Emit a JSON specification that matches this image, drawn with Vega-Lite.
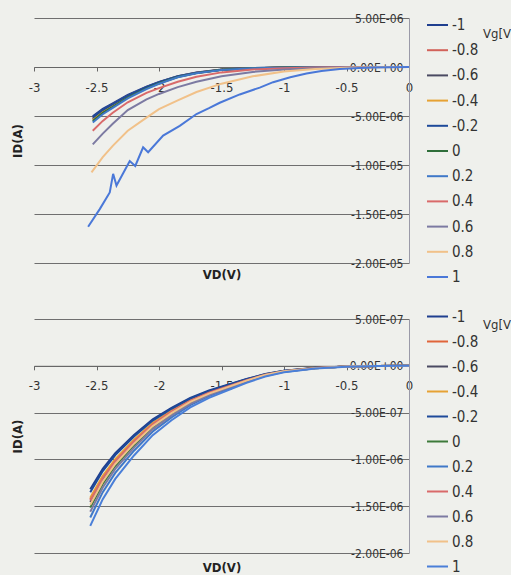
{
  "$schema": "https://vega.github.io/schema/vega-lite/v6.json",
  "background": "#eff0ec",
  "padding": {"left": 11, "top": 12, "right": 0, "bottom": 0},
  "spacing": 19,
  "config": {
    "view": {"stroke": null},
    "font": "DejaVu Sans Condensed",
    "axis": {"labelColor": "#333333", "titleColor": "#222222", "labelFlush": false, "labelOverlap": false},
    "legend": {"labelColor": "#333333", "titleColor": "#333333"}
  },
  "resolve": {"scale": {"color": "independent"}, "legend": {"color": "independent"}},
  "datasets": {
    "top": [
      {"Vg":"-1","VD":0,"ID":0},{"Vg":"-1","VD":-0.25,"ID":-1.9e-9},{"Vg":"-1","VD":-0.5,"ID":-9.5e-9},{"Vg":"-1","VD":-0.75,"ID":-2.85e-8},{"Vg":"-1","VD":-1,"ID":-5.7e-8},{"Vg":"-1","VD":-1.25,"ID":-1.14e-7},{"Vg":"-1","VD":-1.5,"ID":-2.66e-7},{"Vg":"-1","VD":-1.7,"ID":-5.7e-7},{"Vg":"-1","VD":-1.85,"ID":-9.31e-7},{"Vg":"-1","VD":-2,"ID":-1.52e-6},{"Vg":"-1","VD":-2.1,"ID":-1.995e-6},{"Vg":"-1","VD":-2.25,"ID":-2.85e-6},{"Vg":"-1","VD":-2.37,"ID":-3.705e-6},{"Vg":"-1","VD":-2.45,"ID":-4.275e-6},{"Vg":"-1","VD":-2.53,"ID":-5.035e-6},
      {"Vg":"-0.8","VD":0,"ID":0},{"Vg":"-0.8","VD":-0.25,"ID":-2e-9},{"Vg":"-0.8","VD":-0.5,"ID":-9.8e-9},{"Vg":"-0.8","VD":-0.75,"ID":-2.94e-8},{"Vg":"-0.8","VD":-1,"ID":-5.88e-8},{"Vg":"-0.8","VD":-1.25,"ID":-1.176e-7},{"Vg":"-0.8","VD":-1.5,"ID":-2.744e-7},{"Vg":"-0.8","VD":-1.7,"ID":-5.88e-7},{"Vg":"-0.8","VD":-1.85,"ID":-9.604e-7},{"Vg":"-0.8","VD":-2,"ID":-1.568e-6},{"Vg":"-0.8","VD":-2.1,"ID":-2.058e-6},{"Vg":"-0.8","VD":-2.25,"ID":-2.94e-6},{"Vg":"-0.8","VD":-2.37,"ID":-3.822e-6},{"Vg":"-0.8","VD":-2.45,"ID":-4.41e-6},{"Vg":"-0.8","VD":-2.53,"ID":-5.194e-6},
      {"Vg":"-0.6","VD":0,"ID":0},{"Vg":"-0.6","VD":-0.25,"ID":-2e-9},{"Vg":"-0.6","VD":-0.5,"ID":-1e-8},{"Vg":"-0.6","VD":-0.75,"ID":-3e-8},{"Vg":"-0.6","VD":-1,"ID":-6e-8},{"Vg":"-0.6","VD":-1.25,"ID":-1.2e-7},{"Vg":"-0.6","VD":-1.5,"ID":-2.8e-7},{"Vg":"-0.6","VD":-1.7,"ID":-6e-7},{"Vg":"-0.6","VD":-1.85,"ID":-9.8e-7},{"Vg":"-0.6","VD":-2,"ID":-1.6e-6},{"Vg":"-0.6","VD":-2.1,"ID":-2.1e-6},{"Vg":"-0.6","VD":-2.25,"ID":-3e-6},{"Vg":"-0.6","VD":-2.37,"ID":-3.9e-6},{"Vg":"-0.6","VD":-2.45,"ID":-4.5e-6},{"Vg":"-0.6","VD":-2.53,"ID":-5.3e-6},
      {"Vg":"-0.4","VD":0,"ID":0},{"Vg":"-0.4","VD":-0.25,"ID":-2e-9},{"Vg":"-0.4","VD":-0.5,"ID":-1.02e-8},{"Vg":"-0.4","VD":-0.75,"ID":-3.06e-8},{"Vg":"-0.4","VD":-1,"ID":-6.12e-8},{"Vg":"-0.4","VD":-1.25,"ID":-1.224e-7},{"Vg":"-0.4","VD":-1.5,"ID":-2.856e-7},{"Vg":"-0.4","VD":-1.7,"ID":-6.12e-7},{"Vg":"-0.4","VD":-1.85,"ID":-1e-6},{"Vg":"-0.4","VD":-2,"ID":-1.632e-6},{"Vg":"-0.4","VD":-2.1,"ID":-2.142e-6},{"Vg":"-0.4","VD":-2.25,"ID":-3.06e-6},{"Vg":"-0.4","VD":-2.37,"ID":-3.978e-6},{"Vg":"-0.4","VD":-2.45,"ID":-4.59e-6},{"Vg":"-0.4","VD":-2.53,"ID":-5.406e-6},
      {"Vg":"-0.2","VD":0,"ID":0},{"Vg":"-0.2","VD":-0.25,"ID":-1.9e-9},{"Vg":"-0.2","VD":-0.5,"ID":-9.7e-9},{"Vg":"-0.2","VD":-0.75,"ID":-2.91e-8},{"Vg":"-0.2","VD":-1,"ID":-5.82e-8},{"Vg":"-0.2","VD":-1.25,"ID":-1.164e-7},{"Vg":"-0.2","VD":-1.5,"ID":-2.716e-7},{"Vg":"-0.2","VD":-1.7,"ID":-5.82e-7},{"Vg":"-0.2","VD":-1.85,"ID":-9.506e-7},{"Vg":"-0.2","VD":-2,"ID":-1.552e-6},{"Vg":"-0.2","VD":-2.1,"ID":-2.037e-6},{"Vg":"-0.2","VD":-2.25,"ID":-2.91e-6},{"Vg":"-0.2","VD":-2.37,"ID":-3.783e-6},{"Vg":"-0.2","VD":-2.45,"ID":-4.365e-6},{"Vg":"-0.2","VD":-2.53,"ID":-5.141e-6},
      {"Vg":"0","VD":0,"ID":0},{"Vg":"0","VD":-0.25,"ID":-2.1e-9},{"Vg":"0","VD":-0.5,"ID":-1.04e-8},{"Vg":"0","VD":-0.75,"ID":-3.12e-8},{"Vg":"0","VD":-1,"ID":-6.24e-8},{"Vg":"0","VD":-1.25,"ID":-1.248e-7},{"Vg":"0","VD":-1.5,"ID":-2.912e-7},{"Vg":"0","VD":-1.7,"ID":-6.24e-7},{"Vg":"0","VD":-1.85,"ID":-1.019e-6},{"Vg":"0","VD":-2,"ID":-1.664e-6},{"Vg":"0","VD":-2.1,"ID":-2.184e-6},{"Vg":"0","VD":-2.25,"ID":-3.12e-6},{"Vg":"0","VD":-2.37,"ID":-4.056e-6},{"Vg":"0","VD":-2.45,"ID":-4.68e-6},{"Vg":"0","VD":-2.53,"ID":-5.512e-6},
      {"Vg":"0.2","VD":0,"ID":0},{"Vg":"0.2","VD":-0.25,"ID":-2.1e-9},{"Vg":"0.2","VD":-0.5,"ID":-1.07e-8},{"Vg":"0.2","VD":-0.75,"ID":-3.21e-8},{"Vg":"0.2","VD":-1,"ID":-6.42e-8},{"Vg":"0.2","VD":-1.25,"ID":-1.284e-7},{"Vg":"0.2","VD":-1.5,"ID":-2.996e-7},{"Vg":"0.2","VD":-1.7,"ID":-6.42e-7},{"Vg":"0.2","VD":-1.85,"ID":-1.049e-6},{"Vg":"0.2","VD":-2,"ID":-1.712e-6},{"Vg":"0.2","VD":-2.1,"ID":-2.247e-6},{"Vg":"0.2","VD":-2.25,"ID":-3.21e-6},{"Vg":"0.2","VD":-2.37,"ID":-4.173e-6},{"Vg":"0.2","VD":-2.45,"ID":-4.815e-6},{"Vg":"0.2","VD":-2.53,"ID":-5.671e-6},
      {"Vg":"0.4","VD":0,"ID":0},{"Vg":"0.4","VD":-0.25,"ID":-5e-9},{"Vg":"0.4","VD":-0.5,"ID":-2e-8},{"Vg":"0.4","VD":-0.75,"ID":-6e-8},{"Vg":"0.4","VD":-1,"ID":-1.3e-7},{"Vg":"0.4","VD":-1.25,"ID":-2.5e-7},{"Vg":"0.4","VD":-1.5,"ID":-5.5e-7},{"Vg":"0.4","VD":-1.7,"ID":-1e-6},{"Vg":"0.4","VD":-1.85,"ID":-1.5e-6},{"Vg":"0.4","VD":-2,"ID":-2.15e-6},{"Vg":"0.4","VD":-2.1,"ID":-2.64e-6},{"Vg":"0.4","VD":-2.25,"ID":-3.6e-6},{"Vg":"0.4","VD":-2.37,"ID":-4.67e-6},{"Vg":"0.4","VD":-2.45,"ID":-5.5e-6},{"Vg":"0.4","VD":-2.53,"ID":-6.5e-6},
      {"Vg":"0.6","VD":0,"ID":0},{"Vg":"0.6","VD":-0.25,"ID":-1e-8},{"Vg":"0.6","VD":-0.5,"ID":-4e-8},{"Vg":"0.6","VD":-0.75,"ID":-1.2e-7},{"Vg":"0.6","VD":-1,"ID":-2.5e-7},{"Vg":"0.6","VD":-1.25,"ID":-5e-7},{"Vg":"0.6","VD":-1.5,"ID":-9.5e-7},{"Vg":"0.6","VD":-1.7,"ID":-1.5e-6},{"Vg":"0.6","VD":-1.85,"ID":-2.05e-6},{"Vg":"0.6","VD":-2,"ID":-2.75e-6},{"Vg":"0.6","VD":-2.1,"ID":-3.3e-6},{"Vg":"0.6","VD":-2.25,"ID":-4.4e-6},{"Vg":"0.6","VD":-2.37,"ID":-5.8e-6},{"Vg":"0.6","VD":-2.45,"ID":-6.8e-6},{"Vg":"0.6","VD":-2.53,"ID":-7.9e-6},
      {"Vg":"0.8","VD":0,"ID":0},{"Vg":"0.8","VD":-0.25,"ID":-2e-8},{"Vg":"0.8","VD":-0.5,"ID":-8e-8},{"Vg":"0.8","VD":-0.75,"ID":-2e-7},{"Vg":"0.8","VD":-1,"ID":-4.5e-7},{"Vg":"0.8","VD":-1.25,"ID":-9.5e-7},{"Vg":"0.8","VD":-1.5,"ID":-1.7e-6},{"Vg":"0.8","VD":-1.7,"ID":-2.55e-6},{"Vg":"0.8","VD":-1.85,"ID":-3.4e-6},{"Vg":"0.8","VD":-2,"ID":-4.3e-6},{"Vg":"0.8","VD":-2.1,"ID":-5.17e-6},{"Vg":"0.8","VD":-2.25,"ID":-6.5e-6},{"Vg":"0.8","VD":-2.37,"ID":-8.05e-6},{"Vg":"0.8","VD":-2.45,"ID":-9.2e-6},{"Vg":"0.8","VD":-2.54,"ID":-1.075e-5},
      {"Vg":"1","VD":0,"ID":0},{"Vg":"1","VD":-0.15,"ID":-2e-8},{"Vg":"1","VD":-0.29,"ID":-5e-8},{"Vg":"1","VD":-0.4,"ID":-1e-7},{"Vg":"1","VD":-0.554,"ID":-2e-7},{"Vg":"1","VD":-0.7,"ID":-4e-7},{"Vg":"1","VD":-0.82,"ID":-6.7e-7},{"Vg":"1","VD":-0.95,"ID":-1.05e-6},{"Vg":"1","VD":-1.087,"ID":-1.55e-6},{"Vg":"1","VD":-1.194,"ID":-2.1e-6},{"Vg":"1","VD":-1.354,"ID":-2.8e-6},{"Vg":"1","VD":-1.514,"ID":-3.65e-6},{"Vg":"1","VD":-1.6,"ID":-4.2e-6},{"Vg":"1","VD":-1.7,"ID":-4.8e-6},{"Vg":"1","VD":-1.834,"ID":-6e-6},{"Vg":"1","VD":-1.967,"ID":-7e-6},{"Vg":"1","VD":-2.087,"ID":-8.7e-6},{"Vg":"1","VD":-2.127,"ID":-8.2e-6},{"Vg":"1","VD":-2.19,"ID":-1.01e-5},{"Vg":"1","VD":-2.234,"ID":-9.6e-6},{"Vg":"1","VD":-2.34,"ID":-1.21e-5},{"Vg":"1","VD":-2.367,"ID":-1.09e-5},{"Vg":"1","VD":-2.394,"ID":-1.28e-5},{"Vg":"1","VD":-2.474,"ID":-1.45e-5},{"Vg":"1","VD":-2.567,"ID":-1.63e-5}
    ],
    "bottom": [
      {"Vg":"-1","VD":0,"ID":0},{"Vg":"-1","VD":-0.25,"ID":-1.8e-9},{"Vg":"-1","VD":-0.5,"ID":-7e-9},{"Vg":"-1","VD":-0.75,"ID":-2.2e-8},{"Vg":"-1","VD":-1,"ID":-5.3e-8},{"Vg":"-1","VD":-1.15,"ID":-8.8e-8},{"Vg":"-1","VD":-1.3,"ID":-1.41e-7},{"Vg":"-1","VD":-1.45,"ID":-2.02e-7},{"Vg":"-1","VD":-1.6,"ID":-2.64e-7},{"Vg":"-1","VD":-1.75,"ID":-3.43e-7},{"Vg":"-1","VD":-1.9,"ID":-4.49e-7},{"Vg":"-1","VD":-2.05,"ID":-5.72e-7},{"Vg":"-1","VD":-2.2,"ID":-7.39e-7},{"Vg":"-1","VD":-2.35,"ID":-9.33e-7},{"Vg":"-1","VD":-2.45,"ID":-1.1e-6},{"Vg":"-1","VD":-2.55,"ID":-1.32e-6},
      {"Vg":"-0.8","VD":0,"ID":0},{"Vg":"-0.8","VD":-0.25,"ID":-1.9e-9},{"Vg":"-0.8","VD":-0.5,"ID":-7.6e-9},{"Vg":"-0.8","VD":-0.75,"ID":-2.4e-8},{"Vg":"-0.8","VD":-1,"ID":-5.7e-8},{"Vg":"-0.8","VD":-1.15,"ID":-9.5e-8},{"Vg":"-0.8","VD":-1.3,"ID":-1.52e-7},{"Vg":"-0.8","VD":-1.45,"ID":-2.19e-7},{"Vg":"-0.8","VD":-1.6,"ID":-2.85e-7},{"Vg":"-0.8","VD":-1.75,"ID":-3.71e-7},{"Vg":"-0.8","VD":-1.9,"ID":-4.85e-7},{"Vg":"-0.8","VD":-2.05,"ID":-6.18e-7},{"Vg":"-0.8","VD":-2.2,"ID":-7.98e-7},{"Vg":"-0.8","VD":-2.35,"ID":-1.007e-6},{"Vg":"-0.8","VD":-2.45,"ID":-1.188e-6},{"Vg":"-0.8","VD":-2.55,"ID":-1.425e-6},
      {"Vg":"-0.6","VD":0,"ID":0},{"Vg":"-0.6","VD":-0.25,"ID":-1.9e-9},{"Vg":"-0.6","VD":-0.5,"ID":-7.8e-9},{"Vg":"-0.6","VD":-0.75,"ID":-2.4e-8},{"Vg":"-0.6","VD":-1,"ID":-5.8e-8},{"Vg":"-0.6","VD":-1.15,"ID":-9.7e-8},{"Vg":"-0.6","VD":-1.3,"ID":-1.55e-7},{"Vg":"-0.6","VD":-1.45,"ID":-2.23e-7},{"Vg":"-0.6","VD":-1.6,"ID":-2.91e-7},{"Vg":"-0.6","VD":-1.75,"ID":-3.78e-7},{"Vg":"-0.6","VD":-1.9,"ID":-4.95e-7},{"Vg":"-0.6","VD":-2.05,"ID":-6.31e-7},{"Vg":"-0.6","VD":-2.2,"ID":-8.15e-7},{"Vg":"-0.6","VD":-2.35,"ID":-1.028e-6},{"Vg":"-0.6","VD":-2.45,"ID":-1.213e-6},{"Vg":"-0.6","VD":-2.55,"ID":-1.455e-6},
      {"Vg":"-0.4","VD":0,"ID":0},{"Vg":"-0.4","VD":-0.25,"ID":-1.9e-9},{"Vg":"-0.4","VD":-0.5,"ID":-7.5e-9},{"Vg":"-0.4","VD":-0.75,"ID":-2.35e-8},{"Vg":"-0.4","VD":-1,"ID":-5.6e-8},{"Vg":"-0.4","VD":-1.15,"ID":-9.4e-8},{"Vg":"-0.4","VD":-1.3,"ID":-1.5e-7},{"Vg":"-0.4","VD":-1.45,"ID":-2.16e-7},{"Vg":"-0.4","VD":-1.6,"ID":-2.82e-7},{"Vg":"-0.4","VD":-1.75,"ID":-3.67e-7},{"Vg":"-0.4","VD":-1.9,"ID":-4.79e-7},{"Vg":"-0.4","VD":-2.05,"ID":-6.11e-7},{"Vg":"-0.4","VD":-2.2,"ID":-7.9e-7},{"Vg":"-0.4","VD":-2.35,"ID":-9.96e-7},{"Vg":"-0.4","VD":-2.45,"ID":-1.175e-6},{"Vg":"-0.4","VD":-2.55,"ID":-1.41e-6},
      {"Vg":"-0.2","VD":0,"ID":0},{"Vg":"-0.2","VD":-0.25,"ID":-1.8e-9},{"Vg":"-0.2","VD":-0.5,"ID":-7.2e-9},{"Vg":"-0.2","VD":-0.75,"ID":-2.25e-8},{"Vg":"-0.2","VD":-1,"ID":-5.4e-8},{"Vg":"-0.2","VD":-1.15,"ID":-9e-8},{"Vg":"-0.2","VD":-1.3,"ID":-1.44e-7},{"Vg":"-0.2","VD":-1.45,"ID":-2.07e-7},{"Vg":"-0.2","VD":-1.6,"ID":-2.7e-7},{"Vg":"-0.2","VD":-1.75,"ID":-3.51e-7},{"Vg":"-0.2","VD":-1.9,"ID":-4.59e-7},{"Vg":"-0.2","VD":-2.05,"ID":-5.85e-7},{"Vg":"-0.2","VD":-2.2,"ID":-7.56e-7},{"Vg":"-0.2","VD":-2.35,"ID":-9.54e-7},{"Vg":"-0.2","VD":-2.45,"ID":-1.125e-6},{"Vg":"-0.2","VD":-2.55,"ID":-1.35e-6},
      {"Vg":"0","VD":0,"ID":0},{"Vg":"0","VD":-0.25,"ID":-2e-9},{"Vg":"0","VD":-0.5,"ID":-8.1e-9},{"Vg":"0","VD":-0.75,"ID":-2.5e-8},{"Vg":"0","VD":-1,"ID":-6.1e-8},{"Vg":"0","VD":-1.15,"ID":-1.01e-7},{"Vg":"0","VD":-1.3,"ID":-1.62e-7},{"Vg":"0","VD":-1.45,"ID":-2.32e-7},{"Vg":"0","VD":-1.6,"ID":-3.03e-7},{"Vg":"0","VD":-1.75,"ID":-3.94e-7},{"Vg":"0","VD":-1.9,"ID":-5.15e-7},{"Vg":"0","VD":-2.05,"ID":-6.57e-7},{"Vg":"0","VD":-2.2,"ID":-8.48e-7},{"Vg":"0","VD":-2.35,"ID":-1.071e-6},{"Vg":"0","VD":-2.45,"ID":-1.263e-6},{"Vg":"0","VD":-2.55,"ID":-1.515e-6},
      {"Vg":"0.2","VD":0,"ID":0},{"Vg":"0.2","VD":-0.25,"ID":-2.2e-9},{"Vg":"0.2","VD":-0.5,"ID":-8.6e-9},{"Vg":"0.2","VD":-0.75,"ID":-2.7e-8},{"Vg":"0.2","VD":-1,"ID":-6.5e-8},{"Vg":"0.2","VD":-1.15,"ID":-1.08e-7},{"Vg":"0.2","VD":-1.3,"ID":-1.73e-7},{"Vg":"0.2","VD":-1.45,"ID":-2.48e-7},{"Vg":"0.2","VD":-1.6,"ID":-3.24e-7},{"Vg":"0.2","VD":-1.75,"ID":-4.21e-7},{"Vg":"0.2","VD":-1.9,"ID":-5.51e-7},{"Vg":"0.2","VD":-2.05,"ID":-7.02e-7},{"Vg":"0.2","VD":-2.2,"ID":-9.07e-7},{"Vg":"0.2","VD":-2.35,"ID":-1.145e-6},{"Vg":"0.2","VD":-2.45,"ID":-1.35e-6},{"Vg":"0.2","VD":-2.55,"ID":-1.62e-6},
      {"Vg":"0.4","VD":0,"ID":0},{"Vg":"0.4","VD":-0.25,"ID":-1.9e-9},{"Vg":"0.4","VD":-0.5,"ID":-7.7e-9},{"Vg":"0.4","VD":-0.75,"ID":-2.4e-8},{"Vg":"0.4","VD":-1,"ID":-5.8e-8},{"Vg":"0.4","VD":-1.15,"ID":-9.6e-8},{"Vg":"0.4","VD":-1.3,"ID":-1.54e-7},{"Vg":"0.4","VD":-1.45,"ID":-2.21e-7},{"Vg":"0.4","VD":-1.6,"ID":-2.88e-7},{"Vg":"0.4","VD":-1.75,"ID":-3.74e-7},{"Vg":"0.4","VD":-1.9,"ID":-4.9e-7},{"Vg":"0.4","VD":-2.05,"ID":-6.24e-7},{"Vg":"0.4","VD":-2.2,"ID":-8.06e-7},{"Vg":"0.4","VD":-2.35,"ID":-1.018e-6},{"Vg":"0.4","VD":-2.45,"ID":-1.2e-6},{"Vg":"0.4","VD":-2.55,"ID":-1.44e-6},
      {"Vg":"0.6","VD":0,"ID":0},{"Vg":"0.6","VD":-0.25,"ID":-2.1e-9},{"Vg":"0.6","VD":-0.5,"ID":-8.3e-9},{"Vg":"0.6","VD":-0.75,"ID":-2.6e-8},{"Vg":"0.6","VD":-1,"ID":-6.2e-8},{"Vg":"0.6","VD":-1.15,"ID":-1.04e-7},{"Vg":"0.6","VD":-1.3,"ID":-1.66e-7},{"Vg":"0.6","VD":-1.45,"ID":-2.39e-7},{"Vg":"0.6","VD":-1.6,"ID":-3.12e-7},{"Vg":"0.6","VD":-1.75,"ID":-4.06e-7},{"Vg":"0.6","VD":-1.9,"ID":-5.3e-7},{"Vg":"0.6","VD":-2.05,"ID":-6.76e-7},{"Vg":"0.6","VD":-2.2,"ID":-8.74e-7},{"Vg":"0.6","VD":-2.35,"ID":-1.102e-6},{"Vg":"0.6","VD":-2.45,"ID":-1.3e-6},{"Vg":"0.6","VD":-2.55,"ID":-1.56e-6},
      {"Vg":"0.8","VD":0,"ID":0},{"Vg":"0.8","VD":-0.25,"ID":-2e-9},{"Vg":"0.8","VD":-0.5,"ID":-7.9e-9},{"Vg":"0.8","VD":-0.75,"ID":-2.5e-8},{"Vg":"0.8","VD":-1,"ID":-5.9e-8},{"Vg":"0.8","VD":-1.15,"ID":-9.9e-8},{"Vg":"0.8","VD":-1.3,"ID":-1.58e-7},{"Vg":"0.8","VD":-1.45,"ID":-2.28e-7},{"Vg":"0.8","VD":-1.6,"ID":-2.97e-7},{"Vg":"0.8","VD":-1.75,"ID":-3.86e-7},{"Vg":"0.8","VD":-1.9,"ID":-5.05e-7},{"Vg":"0.8","VD":-2.05,"ID":-6.44e-7},{"Vg":"0.8","VD":-2.2,"ID":-8.32e-7},{"Vg":"0.8","VD":-2.35,"ID":-1.049e-6},{"Vg":"0.8","VD":-2.45,"ID":-1.238e-6},{"Vg":"0.8","VD":-2.55,"ID":-1.485e-6},
      {"Vg":"1","VD":0,"ID":0},{"Vg":"1","VD":-0.25,"ID":-2.3e-9},{"Vg":"1","VD":-0.5,"ID":-9.1e-9},{"Vg":"1","VD":-0.75,"ID":-2.85e-8},{"Vg":"1","VD":-1,"ID":-6.8e-8},{"Vg":"1","VD":-1.15,"ID":-1.14e-7},{"Vg":"1","VD":-1.3,"ID":-1.82e-7},{"Vg":"1","VD":-1.45,"ID":-2.62e-7},{"Vg":"1","VD":-1.6,"ID":-3.42e-7},{"Vg":"1","VD":-1.75,"ID":-4.45e-7},{"Vg":"1","VD":-1.9,"ID":-5.81e-7},{"Vg":"1","VD":-2.05,"ID":-7.41e-7},{"Vg":"1","VD":-2.2,"ID":-9.58e-7},{"Vg":"1","VD":-2.35,"ID":-1.208e-6},{"Vg":"1","VD":-2.45,"ID":-1.425e-6},{"Vg":"1","VD":-2.55,"ID":-1.71e-6}
    ]
  },
  "vconcat": [
    {
      "width": 375,
      "height": 245,
      "data": {"name": "top"},
      "mark": {"type": "line", "strokeWidth": 2},
      "encoding": {
        "x": {
          "field": "VD", "type": "quantitative",
          "scale": {"domain": [-3, 0], "nice": false, "zero": false},
          "axis": {
            "orient": "bottom", "offset": -196,
            "values": [-3, -2.5, -2, -1.5, -1, -0.5, 0],
            "labelExpr": "toString(datum.value)",
            "grid": false, "domain": true, "domainColor": "#666666",
            "ticks": true, "tickSize": 4, "tickColor": "#666666",
            "labelPadding": 10, "labelFontSize": 13,
            "title": "VD(V)", "titleY": 201, "titleBaseline": "top",
            "titleFontWeight": "bold", "titleFontSize": 13
          }
        },
        "y": {
          "field": "ID", "type": "quantitative",
          "scale": {"domain": [-2e-5, 5e-6], "nice": false, "zero": false},
          "axis": {
            "orient": "right",
            "values": [5e-6, 0, -5e-6, -1e-5, -1.5e-5, -2e-5],
            "labelExpr": "replace(replace(replace(upper(format(datum.value,'.2e')),regexp('\u2212','g'),'-'),'E-','E-0'),'E+','E+0')",
            "labelAlign": "right", "labelPadding": -6, "labelFontSize": 12,
            "ticks": false, "grid": true, "gridColor": "#6f6f6f", "gridWidth": 1,
            "domain": true, "domainColor": "#9a9aa8",
            "title": "ID(A)", "titleX": -392, "titleY": 122.5, "titleAngle": 270,
            "titleAlign": "center", "titleBaseline": "middle",
            "titleFontWeight": "bold", "titleFontSize": 13
          }
        },
        "color": {
          "field": "Vg", "type": "nominal",
          "scale": {
            "domain": ["-1", "-0.8", "-0.6", "-0.4", "-0.2", "0", "0.2", "0.4", "0.6", "0.8", "1"],
            "range": ["#1f3f8f", "#d2625a", "#4a4a62", "#e6a234", "#1e4a9a", "#2f6e3a", "#3f78c8", "#d96a6a", "#7c7aa2", "#f1c189", "#4a78d8"]
          },
          "legend": {
            "orient": "none", "legendX": 392, "legendY": -4.5,
            "title": "Vg[V", "titleOrient": "right", "titleAnchor": "start", "titleFontSize": 13, "titleFontWeight": "normal",
            "titlePadding": 5, "titleBaseline": "line-top", "titleLineHeight": 41,
            "symbolType": "stroke", "symbolSize": 441, "symbolStrokeWidth": 2,
            "labelFontSize": 15, "labelOffset": 3, "rowPadding": 5.2, "padding": 0
          }
        }
      }
    },
    {
      "width": 375,
      "height": 234,
      "data": {"name": "bottom"},
      "mark": {"type": "line", "strokeWidth": 2},
      "encoding": {
        "x": {
          "field": "VD", "type": "quantitative",
          "scale": {"domain": [-3, 0], "nice": false, "zero": false},
          "axis": {
            "orient": "bottom", "offset": -187.2,
            "values": [-3, -2.5, -2, -1.5, -1, -0.5, 0],
            "labelExpr": "toString(datum.value)",
            "grid": false, "domain": true, "domainColor": "#666666",
            "ticks": true, "tickSize": 4, "tickColor": "#666666",
            "labelPadding": 10, "labelFontSize": 13,
            "title": "VD(V)", "titleY": 196, "titleBaseline": "top",
            "titleFontWeight": "bold", "titleFontSize": 13
          }
        },
        "y": {
          "field": "ID", "type": "quantitative",
          "scale": {"domain": [-2e-6, 5e-7], "nice": false, "zero": false},
          "axis": {
            "orient": "right",
            "values": [5e-7, 0, -5e-7, -1e-6, -1.5e-6, -2e-6],
            "labelExpr": "replace(replace(replace(upper(format(datum.value,'.2e')),regexp('\u2212','g'),'-'),'E-','E-0'),'E+','E+0')",
            "labelAlign": "right", "labelPadding": -6, "labelFontSize": 12,
            "ticks": false, "grid": true, "gridColor": "#6f6f6f", "gridWidth": 1,
            "domain": true, "domainColor": "#9a9aa8",
            "title": "ID(A)", "titleX": -392, "titleY": 117, "titleAngle": 270,
            "titleAlign": "center", "titleBaseline": "middle",
            "titleFontWeight": "bold", "titleFontSize": 13
          }
        },
        "color": {
          "field": "Vg", "type": "nominal",
          "scale": {
            "domain": ["-1", "-0.8", "-0.6", "-0.4", "-0.2", "0", "0.2", "0.4", "0.6", "0.8", "1"],
            "range": ["#1f3f8f", "#e0653a", "#4a4a62", "#e6a234", "#1e4a9a", "#3d7a3a", "#3f78c8", "#d96a6a", "#7c7aa2", "#f1c189", "#4a7fd8"]
          },
          "legend": {
            "orient": "none", "legendX": 392, "legendY": -14,
            "title": "Vg[V", "titleOrient": "right", "titleAnchor": "start", "titleFontSize": 13, "titleFontWeight": "normal",
            "titlePadding": 5, "titleBaseline": "line-top", "titleLineHeight": 41,
            "symbolType": "stroke", "symbolSize": 441, "symbolStrokeWidth": 2,
            "labelFontSize": 15, "labelOffset": 3, "rowPadding": 5, "padding": 0
          }
        }
      }
    }
  ]
}
